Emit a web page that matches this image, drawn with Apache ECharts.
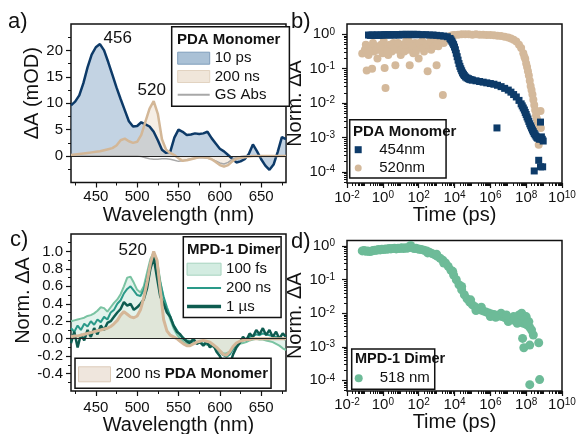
<!DOCTYPE html>
<html>
<head>
<meta charset="utf-8">
<script src="https://cdn.jsdelivr.net/npm/echarts@6/dist/echarts.min.js"></script>
<style>
  html, body { margin: 0; padding: 0; background: #fff; }
  #container { width: 577px; height: 434px; }
</style>
</head>
<body>
<div id="container"></div>
<script>
// ---- a) PDA monomer transient spectra, dA in mOD ----
const wlA = [420,425,430,435,440,445,450,455,460,465,470,475,480,485,490,495,500,505,510,515,520,525,530,535,540,545,550,555,560,565,570,575,580,585,590,595,600,605,610,615,620,625,630,635,640,645,650,655,660,665,670,675,680];
const a10ps = [9.6,10.3,11.5,13.8,16.8,19.2,20.6,21.2,20.0,17.8,15.4,13.0,10.8,8.7,6.6,5.6,5.7,6.4,6.0,5.6,4.6,3.0,1.2,0.6,0.8,3.5,5.0,4.6,4.0,4.1,4.3,4.2,4.3,4.6,3.4,2.4,1.4,0.9,0.2,-0.5,-1.2,-1.0,-0.6,0.4,2.2,0.9,-0.6,-1.8,-2.6,-1.6,0.8,3.6,3.2];
const a200ns = [0.2,0.3,0.4,0.5,0.6,0.7,0.8,0.9,1.1,1.3,1.5,2.0,3.0,3.3,2.8,2.5,2.7,4.0,6.5,9.0,10.4,8.0,3.2,1.2,0.6,0.2,-0.4,-0.9,-0.8,-0.6,-0.4,-0.2,-0.2,-0.3,-0.6,-1.1,-1.7,-2.0,-1.7,-1.0,-0.5,-0.3,-0.2,-0.1,0,0,0,0,0,0,0,0,0];
const aGSAbs = [0,0,0,0,0,0,0,0,0,0,0,0,0,0,0,0,0,-0.1,-0.3,-0.5,-0.6,-0.6,-0.5,-0.5,-0.6,-0.8,-1.0,-0.9,-0.7,-0.5,-0.4,-0.3,-0.3,-0.4,-0.6,-0.9,-1.3,-1.5,-1.2,-0.6,-0.3,-0.1,0,0,0,0,0,0,0,0,0,0,0];

// ---- b) PDA monomer kinetics, log10(t / ps) and log10(norm. dA) ----
const b454LogT = [-0.8,-0.7,-0.6,-0.5,-0.4,-0.3,-0.2,-0.1,0,0.1,0.2,0.3,0.4,0.5,0.6,0.7,0.8,0.9,1.0,1.1,1.2,1.3,1.4,1.5,1.6,1.7,1.8,1.9,2.0,2.2,2.4,2.6,2.8,3.0,3.2,3.4,3.6,3.75,3.85,3.95,4.05,4.15,4.25,4.35,4.45,4.55,4.7,4.85,5.0,5.2,5.4,5.6,5.8,6.0,6.2,6.4,6.6,6.8,7.0,7.15,7.3,7.45,7.6,7.72,7.84,7.95,8.05,8.15,8.25,8.35,8.45,8.55,8.65,8.75,8.85,8.9,6.37,8.45,8.7,8.8,8.92,8.95,8.8,7.78,7.9,8.0,8.1,8.2,8.3,8.4,8.5,8.6,3.8,3.9,4.0,4.1,4.2,4.3,4.4,4.5,4.62,4.78,4.92];
const b454LogA = [-0.02,-0.03,-0.02,-0.03,-0.02,-0.02,-0.03,-0.02,-0.02,-0.01,-0.02,-0.01,-0.02,-0.01,-0.02,-0.01,-0.01,-0.02,-0.01,0,-0.01,0,-0.01,0,-0.01,0,-0.01,0,-0.01,-0.01,-0.01,-0.02,-0.02,-0.03,-0.04,-0.05,-0.07,-0.12,-0.2,-0.3,-0.45,-0.65,-0.85,-1.0,-1.12,-1.2,-1.27,-1.31,-1.33,-1.35,-1.37,-1.39,-1.41,-1.43,-1.45,-1.48,-1.52,-1.57,-1.62,-1.68,-1.75,-1.82,-1.92,-2.02,-2.14,-2.27,-2.4,-2.53,-2.66,-2.78,-2.88,-2.96,-3.02,-3.05,-2.98,-3.05,-2.72,-3.97,-3.66,-3.85,-3.85,-3.1,-2.55,-2.08,-2.2,-2.33,-2.46,-2.6,-2.72,-2.83,-2.92,-3.0,-0.16,-0.25,-0.37,-0.55,-0.75,-0.93,-1.06,-1.16,-1.24,-1.29,-1.32];
const b520LogT = [-1.15,-1.0,-0.9,-0.8,-0.7,-0.6,-0.5,-0.4,-0.3,-0.2,-0.1,0.0,0.1,0.15,0.2,0.3,0.4,0.5,0.6,0.7,0.8,0.9,1.0,1.1,1.2,1.3,1.4,1.5,1.6,1.7,1.8,1.9,2.0,2.1,2.2,2.3,2.4,2.5,2.6,2.7,2.8,2.9,3.0,3.1,3.2,3.35,3.4,3.5,3.6,3.7,3.8,3.9,4.0,4.2,4.4,4.6,4.8,5.0,5.2,5.4,5.6,5.8,6.0,6.2,6.4,6.6,6.8,7.0,7.15,7.3,7.45,7.6,7.72,7.84,7.95,8.05,8.15,8.25,8.35,8.45,8.55,8.65,8.72,8.8,8.82,8.7,8.6,7.9,8.0,8.1,8.2,8.3,8.4,8.5,
  -0.95,-0.75,-0.55,-0.35,-0.15,0.05,0.25,0.45,0.65,0.85,1.05,1.25,1.45,1.65,1.85,2.05,2.25,2.45,2.65,2.85,3.05,3.25,3.45];
const b520LogA = [-0.56,-0.45,-1.05,-0.6,-0.4,-1.0,-0.5,-0.35,-0.7,-0.45,-0.3,-0.55,-0.98,-1.56,-0.4,-0.6,-0.3,-0.5,-0.25,-0.9,-0.45,-0.35,-0.6,-0.3,-0.5,-0.2,-0.45,-0.9,-0.35,-0.55,-0.25,-0.4,-0.7,-0.3,-0.2,-0.5,-0.35,-1.07,-0.25,-0.45,-0.3,-0.2,-0.9,-0.35,-0.2,-1.76,-0.25,-0.15,-0.1,-0.06,-0.04,-0.03,-0.02,-0.01,0,0,0,-0.01,0,-0.01,-0.01,-0.02,-0.02,-0.03,-0.04,-0.05,-0.07,-0.09,-0.12,-0.16,-0.21,-0.3,-0.4,-0.55,-0.72,-0.95,-1.2,-1.5,-1.75,-2.05,-2.35,-2.55,-2.7,-2.23,-2.72,-3.21,-2.45,-0.65,-0.85,-1.07,-1.35,-1.62,-1.9,-2.2,
  -0.3,-0.5,-0.25,-0.45,-0.35,-0.2,-0.5,-0.3,-0.4,-0.25,-0.45,-0.3,-0.2,-0.35,-0.5,-0.25,-0.4,-0.3,-0.2,-0.35,-0.25,-0.15,-0.1];

// ---- c) MPD-1 dimer normalised spectra ----
const wlC = [420,424,428,432,436,440,444,448,452,456,460,464,468,472,476,480,484,488,492,496,500,504,508,512,516,520,524,528,532,536,540,544,548,552,556,560,564,568,572,576,580,584,588,592,596,600,604,608,612,616,620,624,628,632,636,640,644,648,652,656,660,664,668,672,676,680];
const c100fs = [0.20,0.21,0.22,0.23,0.24,0.26,0.27,0.29,0.32,0.36,0.35,0.31,0.36,0.41,0.45,0.51,0.60,0.70,0.71,0.64,0.56,0.53,0.60,0.76,0.91,0.99,0.90,0.66,0.46,0.32,0.22,0.12,0.05,0.00,-0.04,-0.06,-0.06,-0.05,-0.05,-0.05,-0.06,-0.07,-0.08,-0.09,-0.11,-0.14,-0.17,-0.17,-0.15,-0.11,-0.08,-0.06,-0.05,-0.04,-0.02,-0.01,0.00,-0.01,-0.01,-0.02,-0.03,-0.04,-0.06,-0.08,-0.11,-0.13];
const c200ns = [0.12,0.08,0.15,0.10,0.17,0.14,0.20,0.16,0.22,0.19,0.25,0.22,0.30,0.33,0.40,0.44,0.52,0.57,0.60,0.55,0.50,0.49,0.56,0.70,0.88,0.97,0.86,0.64,0.48,0.36,0.26,0.16,0.10,0.04,0.01,-0.02,-0.03,-0.04,-0.05,-0.04,-0.06,-0.06,-0.07,-0.09,-0.12,-0.15,-0.19,-0.21,-0.18,-0.12,-0.07,-0.04,-0.02,0.00,0.02,0.03,0.05,0.04,0.06,0.05,0.04,0.03,0.02,0.01,0.00,-0.01];
const c1us = [-0.05,0.08,-0.10,0.05,-0.02,0.10,0.02,0.12,0.05,0.15,0.10,0.18,0.20,0.25,0.30,0.34,0.42,0.38,0.40,0.33,0.36,0.40,0.45,0.58,0.80,0.93,0.70,0.48,0.40,0.30,0.25,0.15,0.08,0.05,0.00,-0.03,-0.05,0.00,-0.06,-0.04,-0.08,-0.03,-0.10,-0.07,-0.15,-0.20,-0.28,-0.24,-0.30,-0.18,-0.10,-0.05,0.02,-0.02,0.06,0.02,0.10,0.05,0.12,0.04,0.10,0.02,0.08,0.00,0.06,0.02];
const cPDA200ns = [0.02,0.03,0.03,0.04,0.05,0.06,0.07,0.08,0.09,0.10,0.11,0.12,0.14,0.17,0.21,0.27,0.31,0.28,0.25,0.24,0.26,0.33,0.47,0.65,0.86,1.00,0.90,0.55,0.22,0.09,0.04,0.02,0.00,-0.03,-0.06,-0.08,-0.08,-0.06,-0.04,-0.03,-0.02,-0.03,-0.04,-0.07,-0.10,-0.14,-0.18,-0.19,-0.15,-0.09,-0.05,-0.03,-0.02,-0.01,-0.01,0,0,0,0,0,0,0,0,0,0,0];

// ---- d) MPD-1 dimer kinetics at 518 nm, log10 values ----
const d518LogT = [-1.15,-1.05,-0.95,-0.85,-0.75,-0.65,-0.55,-0.45,-0.35,-0.25,-0.15,-0.05,0.05,0.15,0.25,0.35,0.45,0.55,0.65,0.75,0.85,0.95,1.05,1.15,1.25,1.35,1.45,1.55,1.65,1.75,1.85,1.95,2.05,2.15,2.3,2.45,2.6,2.75,2.9,3.05,3.2,3.35,3.5,3.65,3.8,3.95,4.1,4.25,4.4,4.55,4.7,4.85,5.0,5.15,5.3,5.45,5.6,5.75,5.9,6.05,6.2,6.35,6.5,6.65,6.8,6.95,7.1,7.25,7.4,7.55,7.7,7.85,8.0,8.1,8.2,8.3,7.8,7.87,8.2,8.4,8.7,8.2,8.75,7.75,8.15,8.0,7.6,7.9,5.5,6.0,6.6,7.0,7.3,5.2,4.9,4.4,3.9,3.4,3.0,2.5,6.3,6.9,7.5,8.05];
const d518LogA = [-0.14,-0.13,-0.15,-0.14,-0.16,-0.15,-0.13,-0.12,-0.12,-0.10,-0.11,-0.09,-0.10,-0.08,-0.09,-0.07,-0.08,-0.07,-0.06,-0.08,-0.06,-0.07,-0.05,-0.07,-0.05,-0.06,-0.04,0.02,-0.05,-0.07,-0.06,-0.08,-0.09,-0.10,-0.12,-0.14,-0.18,-0.22,-0.26,-0.30,-0.36,-0.42,-0.50,-0.60,-0.72,-0.86,-1.00,-1.15,-1.30,-1.45,-1.57,-1.67,-1.75,-1.81,-1.86,-1.90,-1.93,-1.96,-1.99,-2.02,-2.04,-2.06,-2.08,-2.10,-2.13,-2.15,-2.17,-2.20,-2.22,-2.24,-2.27,-2.30,-2.33,-2.36,-2.42,-2.50,-2.75,-3.03,-2.95,-2.65,-2.88,-4.13,-3.98,-2.0,-2.25,-2.1,-2.05,-2.2,-1.82,-2.1,-2.0,-2.25,-2.1,-1.92,-1.6,-1.2,-0.75,-0.5,-0.24,-0.2,-2.12,-2.05,-2.3,-2.28];

// ---- tick labels ----
const wlTicks = [450, 500, 550, 600, 650];
const wlMinor = [425, 475, 525, 575, 625, 675];
const aYTicks = [0, 5, 10, 15, 20];
const aYMinor = [-2.5, 2.5, 7.5, 12.5, 17.5, 22.5];
const cYTicks = [-0.4, -0.2, 0.0, 0.2, 0.4, 0.6, 0.8, 1.0];
const cYMinor = [-0.5, -0.3, -0.1, 0.1, 0.3, 0.5, 0.7, 0.9, 1.1];
const timeExpTicks = [-2, 0, 2, 4, 6, 8, 10];
const normExpTicks = [-4, -3, -2, -1, 0];

const legendNames = {
  a10: '10 ps', a200: '200 ns', aGS: 'GS Abs',
  b454: '454nm', b520: '520nm',
  c100: '100 fs', c200: '200 ns', c1us: '1 \u00b5s', cPDA: '200 ns {bold|PDA Monomer}',
  d518: '518 nm'
};

const FONT = '"Liberation Sans", Arial, Helvetica, sans-serif';
const INK = '#111';

function pairs(xs, ys) { return xs.map((x, i) => [x, ys[i]]); }
function logMinor(lo, hi) {
  const out = [];
  for (let n = Math.floor(lo); n <= Math.ceil(hi); n++) {
    for (let k = 2; k <= 9; k++) {
      const v = n + Math.log10(k);
      if (v > lo && v < hi) out.push(v);
    }
  }
  return out;
}
const powLabel = v => '{b|10}{s|' + v + '}';
const RICH = {
  b: { fontSize: 15, fontFamily: FONT, color: INK },
  s: { fontSize: 10, fontFamily: FONT, color: INK, verticalAlign: 'top' }
};

function axes(dim, o) {
  const pos = dim === 'x' ? 'bottom' : 'left';
  return [{
    type: 'value', gridIndex: o.grid, position: pos, min: o.min, max: o.max,
    name: o.name, nameLocation: 'middle', nameGap: o.nameGap,
    nameTextStyle: { fontSize: 20, color: INK, fontFamily: FONT, padding: o.namePad || 0 },
    axisLine: { show: false, onZero: false }, splitLine: { show: false },
    axisTick: { show: true, length: 5, lineStyle: { color: INK, width: 1.2 }, customValues: o.ticks },
    axisLabel: { show: true, customValues: o.ticks, margin: o.margin, fontSize: 15, color: INK,
                 fontFamily: FONT, formatter: o.fmt, rich: RICH }
  }, {
    type: 'value', gridIndex: o.grid, position: pos, min: o.min, max: o.max,
    axisLine: { show: false, onZero: false }, splitLine: { show: false }, axisLabel: { show: false },
    axisTick: { show: true, length: 3, lineStyle: { color: INK, width: 1 }, customValues: o.minor }
  }];
}

const xAxes = [].concat(
  axes('x', { grid: 0, min: 420, max: 680, ticks: wlTicks, minor: wlMinor, name: 'Wavelength (nm)', nameGap: 20, margin: 7 }),
  axes('x', { grid: 1, min: -2, max: 10, ticks: timeExpTicks, minor: logMinor(-2, 10), name: 'Time (ps)', nameGap: 21, margin: 7, fmt: powLabel }),
  axes('x', { grid: 2, min: 420, max: 680, ticks: wlTicks, minor: wlMinor, name: 'Wavelength (nm)', nameGap: 16, margin: 9 }),
  axes('x', { grid: 3, min: -2, max: 10, ticks: timeExpTicks, minor: logMinor(-2, 10), name: 'Time (ps)', nameGap: 16, margin: 6, fmt: powLabel })
);
const yAxes = [].concat(
  axes('y', { grid: 0, min: -5, max: 25, ticks: aYTicks, minor: aYMinor, name: '\u0394A (mOD)', nameGap: 25, margin: 8, namePad: [0, 0, 0, 20] }),
  axes('y', { grid: 1, min: -4.32, max: 0.3, ticks: normExpTicks, minor: logMinor(-4.32, 0.3), name: 'Norm. \u0394A', nameGap: 36, margin: 12, fmt: powLabel }),
  axes('y', { grid: 2, min: -0.6, max: 1.2, ticks: cYTicks, minor: cYMinor, name: 'Norm. \u0394A', nameGap: 34, margin: 8, fmt: v => v.toFixed(1), namePad: [0, 0, 0, 24] }),
  axes('y', { grid: 3, min: -4.32, max: 0.17, ticks: normExpTicks, minor: logMinor(-4.32, 0.17), name: 'Norm. \u0394A', nameGap: 36, margin: 12, fmt: powLabel })
);

const zeroLine = {
  silent: true, symbol: ['none', 'none'], label: { show: false },
  lineStyle: { color: '#222', width: 1.2, type: 'solid' }, data: [{ yAxis: 0 }]
};
function peakLabel(text, coord, offset) {
  return {
    silent: true, symbol: 'circle', symbolSize: 1, itemStyle: { color: 'rgba(0,0,0,0)' },
    label: { show: true, position: 'inside', fontSize: 17, color: INK, fontFamily: FONT, formatter: '{b}', offset: offset },
    data: [{ name: text, coord: coord }]
  };
}
function legendBox(o) {
  return Object.assign({
    orient: 'vertical', selectedMode: false, symbolKeepAspect: true,
    borderColor: INK, borderWidth: 1.5, backgroundColor: '#fff', borderRadius: 0,
    itemWidth: 32, itemHeight: 12, itemGap: 3.3,
    textStyle: { fontSize: 15, color: INK, fontFamily: FONT,
                 rich: { bold: { fontSize: 15, fontWeight: 'bold', color: INK, fontFamily: FONT } } },
    formatter: n => legendNames[n]
  }, o);
}
function txt(text, left, top, size, bold) {
  return { text: text, left: left, top: top, padding: 0,
           textStyle: { fontSize: size, fontWeight: bold ? 'bold' : 'normal', color: INK, fontFamily: FONT } };
}

const myChart = echarts.init(document.getElementById('container'), null, { renderer: 'canvas' });

const option = {
  animation: false,
  backgroundColor: '#fff',
  textStyle: { fontFamily: FONT },
  title: [
    txt('a)', 8, 11, 22), txt('b)', 291, 11, 22), txt('c)', 10, 229, 22), txt('d)', 291, 231, 22),
    txt('PDA Monomer', 177, 32, 15, true), txt('PDA Monomer', 353, 124, 15, true),
    txt('MPD-1 Dimer', 187, 242.5, 15, true), txt('MPD-1 Dimer', 355, 351, 14.5, true)
  ],
  grid: [
    { left: 71, top: 24, width: 215, height: 158.5 },
    { left: 347, top: 24, width: 215, height: 159 },
    { left: 71, top: 234, width: 215, height: 157 },
    { left: 347, top: 240.5, width: 215, height: 150.5 }
  ].map(g => Object.assign(g, { show: true, borderColor: INK, borderWidth: 1.5, outerBoundsMode: 'none' })),
  xAxis: xAxes,
  yAxis: yAxes,
  legend: [
    legendBox({ left: 171.7, top: 26.7, padding: [24, 23, 4, 5],
      data: [
        { name: 'a10', icon: 'rect', itemStyle: { color: '#aac1d6', borderColor: '#7f9dbb', borderWidth: 1 } },
        { name: 'a200', icon: 'rect', itemStyle: { color: '#f0e6da', borderColor: '#e2d3c1', borderWidth: 1 } },
        { name: 'aGS', itemStyle: { opacity: 0 } }
      ] }),
    legendBox({ left: 349.7, top: 119.7, padding: [22.5, 21, 2.5, 5], itemHeight: 7,
      data: [
        { name: 'b454', icon: 'path://M0,0H10V10H0Z' },
        { name: 'b520', icon: 'circle' }
      ] }),
    legendBox({ left: 183.3, top: 236.7, padding: [25, 10, 3.5, 2], itemWidth: 34, itemGap: 3.7,
      data: [
        { name: 'c100', icon: 'rect', itemStyle: { color: '#d3ece1', borderColor: '#a6d3be', borderWidth: 1 } },
        { name: 'c200', itemStyle: { opacity: 0 } },
        { name: 'c1us', itemStyle: { opacity: 0 }, lineStyle: { width: 3.5 } }
      ] }),
    legendBox({ left: 351.7, top: 349, padding: [21.8, 5, 3.5, 3], itemHeight: 8,
      data: [{ name: 'd518', icon: 'circle' }] }),
    legendBox({ left: 75, top: 358.3, padding: [8, 3, 6, 3], itemHeight: 15,
      data: [{ name: 'cPDA', icon: 'rect', itemStyle: { color: '#efe6dd', borderColor: '#dccbb8', borderWidth: 1 } }] })
  ],
  series: [
    // a)
    { name: 'a10', type: 'line', xAxisIndex: 0, yAxisIndex: 0, data: pairs(wlA, a10ps), symbol: 'none',
      lineStyle: { color: '#0d3a68', width: 2.5 }, itemStyle: { color: '#0d3a68' },
      areaStyle: { color: 'rgba(118,153,190,0.62)' }, markLine: zeroLine,
      markPoint: peakLabel('456', [456, 21.2], [17, -6]) },
    { name: 'aGS', type: 'line', xAxisIndex: 0, yAxisIndex: 0, data: pairs(wlA, aGSAbs), symbol: 'none',
      lineStyle: { color: '#a8a8a8', width: 1.5 }, itemStyle: { color: '#a8a8a8' } },
    { name: 'a200', type: 'line', xAxisIndex: 0, yAxisIndex: 0, data: pairs(wlA, a200ns), symbol: 'none',
      lineStyle: { color: '#d3b797', width: 2.5 }, itemStyle: { color: '#d3b797' },
      areaStyle: { color: 'rgba(226,201,172,0.45)' },
      markPoint: peakLabel('520', [520, 10.4], [-2, -11]) },
    // b) beige first so the navy 454 nm row stays visible on top
    { name: 'b520', type: 'scatter', xAxisIndex: 2, yAxisIndex: 2, data: pairs(b520LogT, b520LogA),
      symbol: 'circle', symbolSize: 8, itemStyle: { color: '#d4b99b', opacity: 1 } },
    { name: 'b454', type: 'scatter', xAxisIndex: 2, yAxisIndex: 2, data: pairs(b454LogT, b454LogA),
      symbol: 'rect', symbolSize: 7, itemStyle: { color: '#0d3b69', opacity: 1 } },
    // c)
    { name: 'c100', type: 'line', xAxisIndex: 4, yAxisIndex: 4, data: pairs(wlC, c100fs), symbol: 'none',
      lineStyle: { color: '#7ac3a2', width: 2 }, itemStyle: { color: '#7ac3a2' },
      areaStyle: { color: 'rgba(150,210,184,0.38)' }, markLine: zeroLine },
    { name: 'c200', type: 'line', xAxisIndex: 4, yAxisIndex: 4, data: pairs(wlC, c200ns), symbol: 'none',
      lineStyle: { color: '#2a9a89', width: 2 }, itemStyle: { color: '#2a9a89' } },
    { name: 'c1us', type: 'line', xAxisIndex: 4, yAxisIndex: 4, data: pairs(wlC, c1us), symbol: 'none',
      lineStyle: { color: '#0e5c50', width: 2.5 }, itemStyle: { color: '#0e5c50' } },
    { name: 'cPDA', type: 'line', xAxisIndex: 4, yAxisIndex: 4, data: pairs(wlC, cPDA200ns), symbol: 'none',
      lineStyle: { color: '#d5b798', width: 3 }, itemStyle: { color: '#d5b798' },
      areaStyle: { color: 'rgba(212,188,160,0.35)' },
      markPoint: peakLabel('520', [520, 1.0], [-21, -1]) },
    // d)
    { name: 'd518', type: 'scatter', xAxisIndex: 6, yAxisIndex: 6, data: pairs(d518LogT, d518LogA),
      symbol: 'circle', symbolSize: 9, itemStyle: { color: '#6dbb98', opacity: 1 } }
  ]
};

myChart.setOption(option);
</script>
</body>
</html>
